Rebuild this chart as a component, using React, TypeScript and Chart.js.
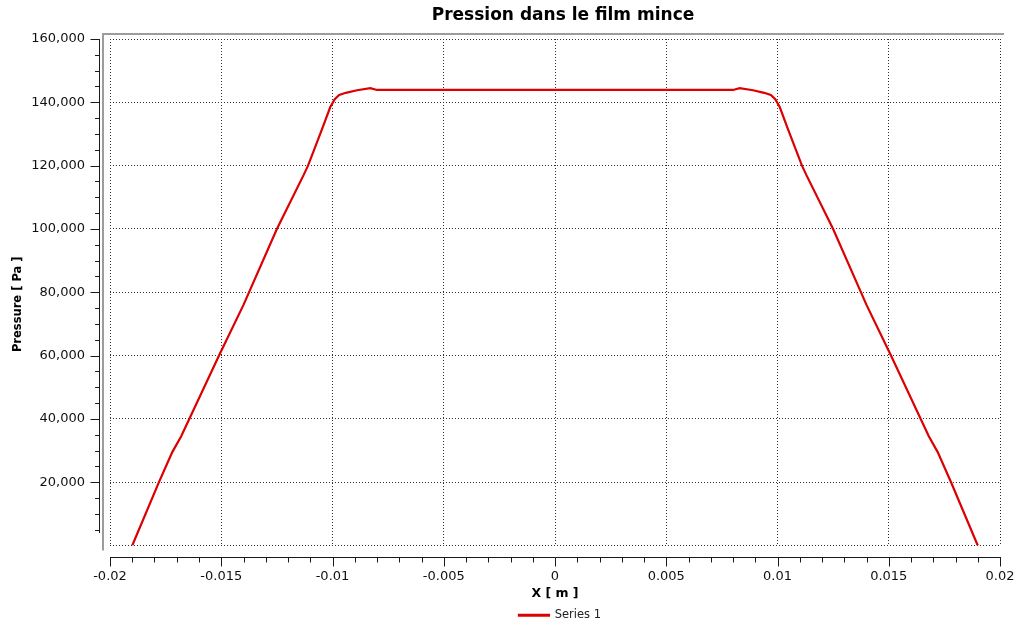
import React, { useEffect, useRef } from 'react';
import { Chart, registerables } from 'chart.js';

Chart.register(...registerables);

const CHART_TITLE = 'Pression dans le film mince';
const X_TITLE = 'X [ m ]';
const Y_TITLE = 'Pressure [ Pa ]';
const SERIES_LABEL = 'Series 1';

// Series 1 : position X [m]
const xPositions = [
  -0.019, -0.0178, -0.0172, -0.0168, -0.0151, -0.014, -0.0125,
  -0.0113, -0.0111, -0.0105, -0.0101, -0.0099, -0.0097, -0.0094, -0.0089, -0.0083, -0.008,
  0,
  0.008, 0.0083, 0.0089, 0.0094, 0.0097, 0.0099, 0.0101, 0.0105, 0.0111, 0.0113,
  0.0125, 0.014, 0.0151, 0.0168, 0.0172, 0.0178, 0.019,
];
// Series 1 : pressure [Pa]
const pressures = [
  0, 20000, 29500, 34500, 60000, 76000, 100000,
  117000, 120000, 131000, 138500, 141000, 142300, 143000, 143800, 144500, 143900,
  143900,
  143900, 144500, 143800, 143000, 142300, 141000, 138500, 131000, 120000, 117000,
  100000, 76000, 60000, 34500, 29500, 20000, 0,
];

const xTickLabels = ['-0.02', '-0.015', '-0.01', '-0.005', '0', '0.005', '0.01', '0.015', '0.02'];
const yTickLabels = ['', '20,000', '40,000', '60,000', '80,000', '100,000', '120,000', '140,000', '160,000'];

const X_MIN = -0.02;
const X_MAX = 0.02;
const X_MAJOR = 0.005;
const X_MINOR = 0.001;
const Y_MIN = 0;
const Y_MAX = 160000;
const Y_MAJOR = 20000;
const Y_MINOR = 5000;

const FONT = 'DejaVu Sans, Verdana, sans-serif';
const LINE_COLOR = '#dc0000';

function shiftDraw(obj: any, dx: number, dy: number, method: string) {
  if (!obj || obj['__shifted_' + method]) return;
  const orig = obj[method].bind(obj);
  obj[method] = (...args: any[]) => {
    const ctx = obj.ctx;
    ctx.save();
    ctx.translate(dx, dy);
    orig(...args);
    ctx.restore();
  };
  obj['__shifted_' + method] = true;
}

const placement = {
  id: 'placement',
  beforeDraw(chart: any) {
    shiftDraw(chart.scales.y, 0, 12, 'drawTitle');
    shiftDraw(chart.titleBlock, 8, 0, 'draw');
    shiftDraw(chart.legend, 5, 0, 'draw');
  },
};

const axisDecor = {
  id: 'axisDecor',
  afterDraw(chart: any) {
    const { ctx, chartArea: a, scales } = chart;
    const x = scales.x;
    const y = scales.y;
    ctx.save();
    // grey frame (left + top)
    ctx.strokeStyle = '#9c9c9c';
    ctx.lineWidth = 2;
    ctx.beginPath();
    ctx.moveTo(a.left - 7, a.bottom + 5);
    ctx.lineTo(a.left - 7, a.top - 5);
    ctx.lineTo(a.right + 4, a.top - 5);
    ctx.stroke();

    ctx.strokeStyle = '#1a1a1a';
    ctx.lineWidth = 1;
    // Y axis
    const ax = Math.round(a.left - 11) + 0.5;
    ctx.beginPath();
    ctx.moveTo(ax, Math.round(y.getPixelForValue(Y_MAX)));
    ctx.lineTo(ax, Math.round(y.getPixelForValue(Y_MINOR)) + 3);
    const nY = Math.round((Y_MAX - Y_MIN) / Y_MINOR);
    for (let i = 1; i <= nY; i++) {
      const v = Y_MIN + i * Y_MINOR;
      const p = Math.round(y.getPixelForValue(v)) + 0.5;
      const major = i % Math.round(Y_MAJOR / Y_MINOR) === 0;
      ctx.moveTo(ax - (major ? 9 : 4.5), p);
      ctx.lineTo(ax, p);
    }
    ctx.stroke();

    // X axis
    const ay = Math.round(a.bottom + 11) + 0.5;
    ctx.beginPath();
    ctx.moveTo(Math.round(x.getPixelForValue(X_MIN)), ay);
    ctx.lineTo(Math.round(x.getPixelForValue(X_MAX)) + 1, ay);
    const nX = Math.round((X_MAX - X_MIN) / X_MINOR);
    for (let i = 0; i <= nX; i++) {
      const v = X_MIN + i * X_MINOR;
      const p = Math.round(x.getPixelForValue(v)) + 0.5;
      const major = i % Math.round(X_MAJOR / X_MINOR) === 0;
      ctx.moveTo(p, ay);
      ctx.lineTo(p, ay + (major ? 9 : 5));
    }
    ctx.stroke();
    ctx.restore();
  },
};

export default function App() {
  const canvasRef = useRef<HTMLCanvasElement | null>(null);

  useEffect(() => {
    const canvas = canvasRef.current;
    if (!canvas) return;
    const points = xPositions.map((xv, i) => ({ x: xv, y: pressures[i] }));
    const chart = new Chart(canvas, {
      type: 'line',
      data: {
        datasets: [
          {
            label: SERIES_LABEL,
            data: points,
            borderColor: LINE_COLOR,
            backgroundColor: LINE_COLOR,
            borderWidth: 2.2,
            pointRadius: 0,
            tension: 0,
            fill: false,
          },
        ],
      },
      options: {
        animation: false,
        responsive: false,
        devicePixelRatio: 1,
        layout: { padding: { left: 0, right: 14, top: 0, bottom: 0 } },
        plugins: {
          title: {
            display: true,
            text: CHART_TITLE,
            fullSize: false,
            color: '#000',
            font: { family: FONT, size: 17, weight: 'bold', lineHeight: 1.2 },
            padding: { top: 5, bottom: 13.6 },
          },
          legend: {
            display: true,
            position: 'bottom',
            fullSize: false,
            labels: {
              boxWidth: 30,
              boxHeight: 1,
              padding: 8,
              color: '#222',
              font: { family: FONT, size: 11.5 },
            },
          },
          tooltip: { enabled: false },
        },
        scales: {
          x: {
            type: 'linear',
            min: X_MIN,
            max: X_MAX,
            border: { display: false, dash: [1, 2] },
            grid: { drawTicks: false, color: '#333', lineWidth: 1 },
            ticks: {
              stepSize: X_MAJOR,
              autoSkip: false,
              maxRotation: 0,
              padding: 23,
              color: '#111',
              font: { family: FONT, size: 13 },
              callback: (_v: any, i: number) => xTickLabels[i],
            },
            title: {
              display: true,
              text: X_TITLE,
              color: '#000',
              font: { family: FONT, size: 12.5, weight: 'bold' },
              padding: { top: 0, bottom: 0 },
            },
            afterFit: (s: any) => {
              s.height = 56;
              s.paddingLeft = 0;
              s.paddingRight = 0;
            },
          },
          y: {
            type: 'linear',
            min: Y_MIN,
            max: Y_MAX,
            border: { display: false, dash: [1, 2] },
            grid: { drawTicks: false, color: '#333', lineWidth: 1 },
            ticks: {
              stepSize: Y_MAJOR,
              autoSkip: false,
              padding: 25,
              color: '#111',
              font: { family: FONT, size: 13 },
              callback: (_v: any, i: number) => yTickLabels[i],
            },
            title: {
              display: true,
              text: Y_TITLE,
              color: '#000',
              font: { family: FONT, size: 11.5, weight: 'bold' },
              padding: { top: 11, bottom: 0 },
            },
            afterFit: (s: any) => {
              s.width = 110;
              s.paddingTop = 0;
              s.paddingBottom = 0;
            },
          },
        },
      },
      plugins: [placement, axisDecor],
    } as any);
    return () => chart.destroy();
  }, []);

  return (
    <div
      style={{
        position: 'absolute',
        left: 0,
        top: 0,
        width: 1014,
        height: 626,
        overflow: 'hidden',
        background: '#fff',
      }}
    >
      <canvas ref={canvasRef} width={1014} height={631} style={{ display: 'block' }} />
    </div>
  );
}
